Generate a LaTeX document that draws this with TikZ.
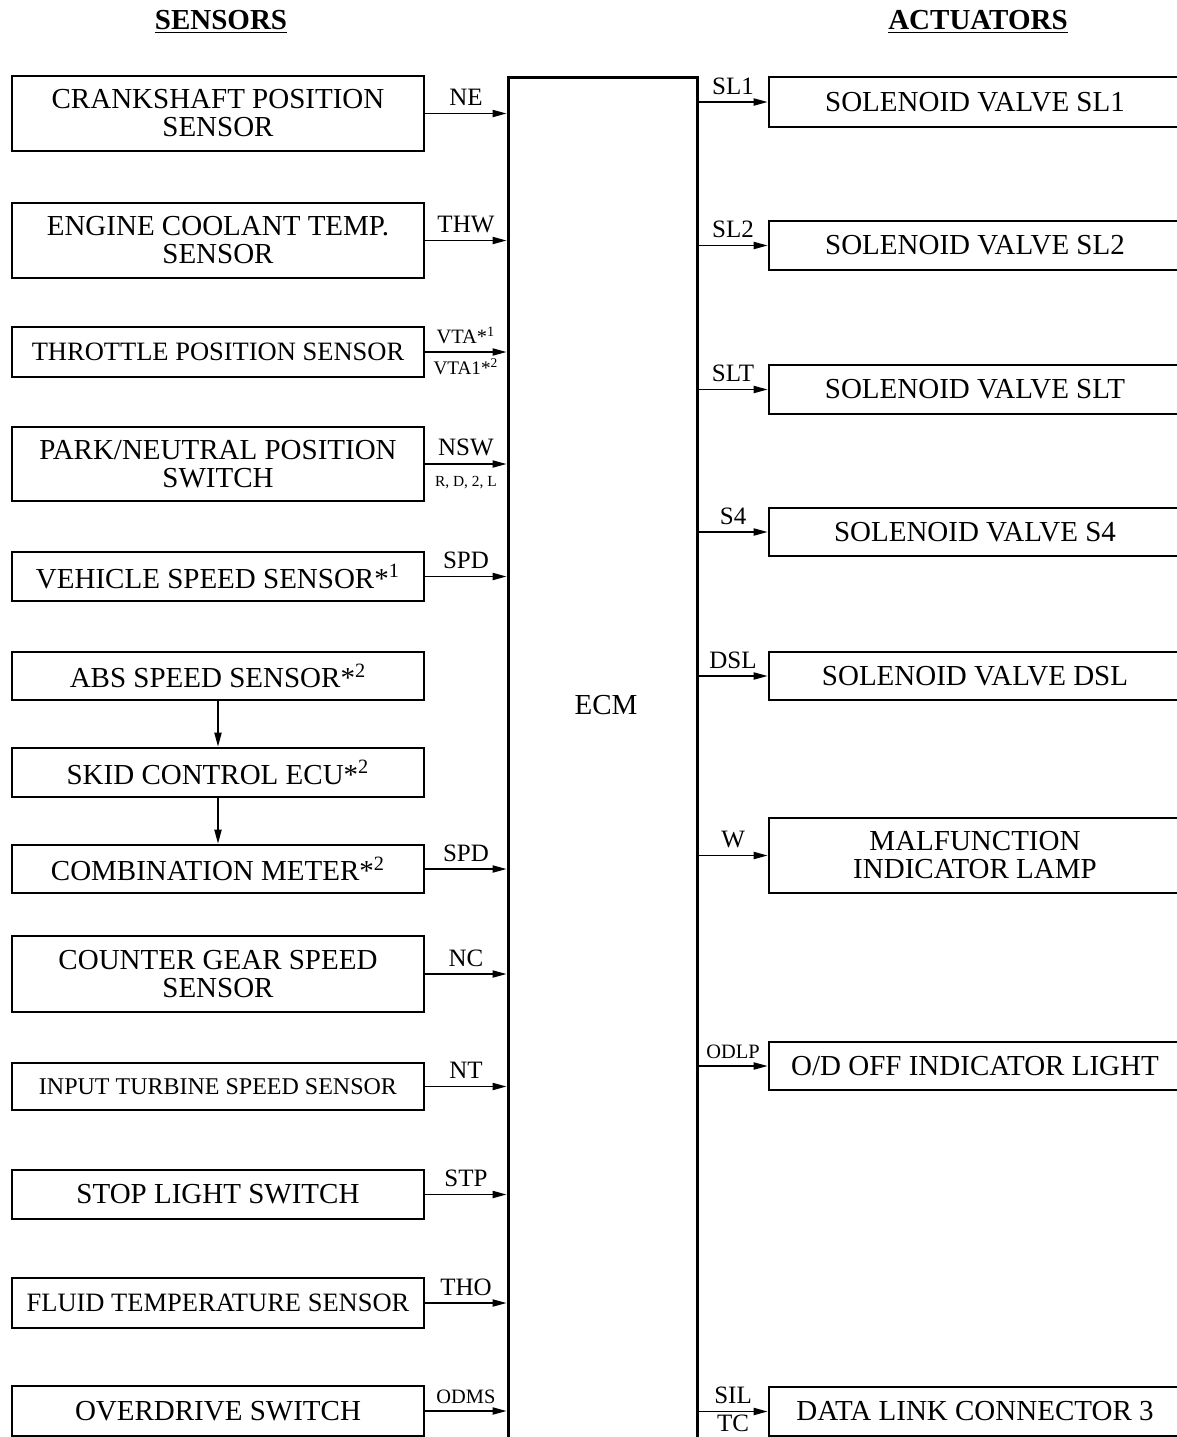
\documentclass[tikz,border=0pt]{standalone}
\usepackage{fontspec}
\setmainfont{Liberation Serif}
\usetikzlibrary{arrows.meta}
\newcommand\mainf{\fontsize{14.5}{14}\selectfont}
\newcommand\midf{\fontsize{13.25}{14}\selectfont}
\newcommand\smallboxf{\fontsize{12}{14}\selectfont}
\newcommand\lblf{\fontsize{12.5}{14}\selectfont}
\newcommand\slblf{\fontsize{10.2}{12}\selectfont}
\newcommand\tinyf{\fontsize{7.7}{9}\selectfont}
\newcommand\stx[1]{*\textsuperscript{#1}}
\begin{document}
\begin{tikzpicture}[x=0.5pt,y=-0.5pt,
  sbox/.style={draw, line width=1.4pt, inner sep=0pt, align=center, font=\mainf,
    minimum width=206pt},
  abox/.style={draw, line width=1.4pt, inner sep=0pt, align=center, font=\mainf,
    minimum width=206pt},
  arr/.style={line width=0.75pt, -{Triangle[length=7pt,width=3.6pt]}},
  lab/.style={above, inner sep=1pt, yshift=2.5pt, font=\lblf},
  slab/.style={above, inner sep=1pt, yshift=2.5pt, font=\slblf},
  blab/.style={below, inner sep=1pt, yshift=-2pt, font=\slblf},
  hdr/.style={font=\fontsize{14.5}{16}\selectfont\bfseries},
]
\useasboundingbox (0,0) rectangle (1177,1437);
\clip (0,0) rectangle (1177,1437);

% headers
\node[hdr] (hs) at (221,22) {\underline{SENSORS}};
\node[hdr] (ha) at (978,22) {\underline{ACTUATORS}};

% ECM
\node[draw, line width=1.5pt, minimum width=94.5pt, minimum height=686.5pt, inner sep=0pt]
  (ecm) at (602.5,763.5) {};
\node[font=\mainf] (ecmt) at (606,705) {ECM};

% sensors
\node[sbox, minimum height=37.5pt] (s1) at (218,113.5) {CRANKSHAFT POSITION\\SENSOR};
\node[sbox, minimum height=37.5pt] (s2) at (218,240.5) {ENGINE COOLANT TEMP.\\SENSOR};
\node[sbox, minimum height=25pt, font=\midf] (s3) at (218,352) {THROTTLE POSITION SENSOR};
\node[sbox, minimum height=37pt] (s4) at (218,464) {PARK/NEUTRAL POSITION\\SWITCH};
\node[sbox, minimum height=24.5pt] (s5) at (218,576.5) {VEHICLE SPEED SENSOR\stx{1}};
\node[sbox, minimum height=24pt] (s6) at (218,676) {ABS SPEED SENSOR\stx{2}};
\node[sbox, minimum height=24.5pt] (s7) at (218,772.5) {SKID CONTROL ECU\stx{2}};
\node[sbox, minimum height=24pt] (s8) at (218,869) {COMBINATION METER\stx{2}};
\node[sbox, minimum height=38pt] (s9) at (218,974) {COUNTER GEAR SPEED\\SENSOR};
\node[sbox, minimum height=23.5pt, font=\smallboxf] (s10) at (218,1086.5) {INPUT TURBINE SPEED SENSOR};
\node[sbox, minimum height=24.5pt] (s11) at (218,1194.5) {STOP LIGHT SWITCH};
\node[sbox, minimum height=25pt, font=\midf] (s12) at (218,1303) {FLUID TEMPERATURE SENSOR};
\node[sbox, minimum height=25pt] (s13) at (218,1411) {OVERDRIVE SWITCH};

% sensor connectors
\draw[arr] (s1.east) -- (s1.east -| ecm.west) node[lab, midway] {NE};
\draw[arr] (s2.east) -- (s2.east -| ecm.west) node[lab, midway] {THW};
\draw[arr] (s3.east) -- (s3.east -| ecm.west)
  node[slab, midway] {VTA\stx{1}} node[blab, midway, font=\fontsize{9.6}{11}\selectfont] {VTA1\stx{2}};
\draw[arr] (s4.east) -- (s4.east -| ecm.west)
  node[lab, midway] {NSW} node[blab, midway, font=\tinyf, yshift=-3pt] {R, D, 2, L};
\draw[arr] (s5.east) -- (s5.east -| ecm.west) node[lab, midway] {SPD};
\draw[arr] (s6.south) -- (s7.north);
\draw[arr] (s7.south) -- (s8.north);
\draw[arr] (s8.east) -- (s8.east -| ecm.west) node[lab, midway] {SPD};
\draw[arr] (s9.east) -- (s9.east -| ecm.west) node[lab, midway] {NC};
\draw[arr] (s10.east) -- (s10.east -| ecm.west) node[lab, midway] {NT};
\draw[arr] (s11.east) -- (s11.east -| ecm.west) node[lab, midway] {STP};
\draw[arr] (s12.east) -- (s12.east -| ecm.west) node[lab, midway] {THO};
\draw[arr] (s13.east) -- (s13.east -| ecm.west) node[slab, midway] {ODMS};

% actuators
\node[abox, minimum height=25pt] (a1) at (975,102) {SOLENOID VALVE SL1};
\node[abox, minimum height=24.5pt] (a2) at (975,245.5) {SOLENOID VALVE SL2};
\node[abox, minimum height=24.5pt] (a3) at (975,389.5) {SOLENOID VALVE SLT};
\node[abox, minimum height=24pt] (a4) at (975,532) {SOLENOID VALVE S4};
\node[abox, minimum height=24pt] (a5) at (975,676) {SOLENOID VALVE DSL};
\node[abox, minimum height=37.5pt] (a6) at (975,855.5) {MALFUNCTION\\INDICATOR LAMP};
\node[abox, minimum height=24pt] (a7) at (975,1066) {O/D OFF INDICATOR LIGHT};
\node[abox, minimum height=24.5pt] (a8) at (975,1411.5) {DATA LINK CONNECTOR 3};

% actuator connectors
\draw[arr] (a1.west -| ecm.east) -- (a1.west) node[lab, midway] {SL1};
\draw[arr] (a2.west -| ecm.east) -- (a2.west) node[lab, midway] {SL2};
\draw[arr] (a3.west -| ecm.east) -- (a3.west) node[lab, midway] {SLT};
\draw[arr] (a4.west -| ecm.east) -- (a4.west) node[lab, midway] {S4};
\draw[arr] (a5.west -| ecm.east) -- (a5.west) node[lab, midway] {DSL};
\draw[arr] (a6.west -| ecm.east) -- (a6.west) node[lab, midway] {W};
\draw[arr] (a7.west -| ecm.east) -- (a7.west) node[slab, midway] {ODLP};
\draw[arr] (a8.west -| ecm.east) -- (a8.west)
  node[lab, midway] {SIL} node[blab, midway, font=\lblf, yshift=1.5pt] {TC};
\end{tikzpicture}
\end{document}
